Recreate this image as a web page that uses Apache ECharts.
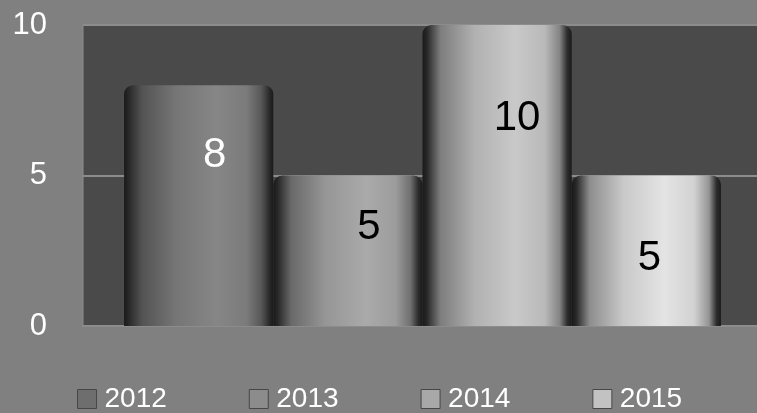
<!DOCTYPE html>
<html>
<head>
<meta charset="utf-8">
<script src="https://cdn.jsdelivr.net/npm/echarts@6/dist/echarts.min.js"></script>
<style>
html,body{margin:0;padding:0;background:#808080;}
#chart{width:757px;height:413px;}
</style>
</head>
<body>
<div id="chart"></div>
<script>
var categories = ['Series'];
var seriesNames = ['2012', '2013', '2014', '2015'];
var seriesValues = [8, 5, 10, 5];
var yTicks = [0, 5, 10];

var peaks = [0x86, 0xaa, 0xc9, 0xe4];
var legendColors = ['#6e6e6e', '#8c8c8c', '#a8a8a8', '#c2c2c2'];
var labelColors = ['#ffffff', '#000000', '#000000', '#000000'];
var labelOffsets = [[16, 44], [21, 26], [20, 67], [3, 57]];

function hex(v){v=Math.max(0,Math.min(255,Math.round(v)));var s=v.toString(16);if(s.length<2)s='0'+s;return '#'+s+s+s;}
function cyl(p){
  return {type:'linear',x:0,y:0,x2:1,y2:0,colorStops:[
    {offset:0,color:hex(25)},
    {offset:0.03,color:hex(40)},
    {offset:0.12,color:hex(p*0.62)},
    {offset:0.35,color:hex(p*0.88)},
    {offset:0.62,color:hex(p)},
    {offset:0.82,color:hex(p*0.92)},
    {offset:0.92,color:hex(p*0.65)},
    {offset:0.97,color:hex(45)},
    {offset:1,color:hex(25)}
  ]};
}

var series = seriesNames.map(function(name,i){
  return {
    name:name,
    type:'bar',
    barGap:'0%',
    barCategoryGap:'12.1%',
    data:[seriesValues[i]],
    itemStyle:{color:cyl(peaks[i]),borderRadius:[9,9,0,0]},
    label:{show:true,position:'insideTop',offset:labelOffsets[i],color:labelColors[i],
      fontSize:42,fontFamily:'Liberation Sans'}
  };
});

var legendData = seriesNames.map(function(name,i){
  return {name:name,itemStyle:{color:legendColors[i],borderColor:'#474747',borderWidth:1}};
});

var chart = echarts.init(document.getElementById('chart'));
chart.setOption({
  backgroundColor:'#808080',
  animation:false,
  grid:{left:83,right:-5,top:25,bottom:87,outerBoundsMode:'none',containLabel:false,
    show:true,backgroundColor:'#4a4a4a',borderColor:'#8c8c8c',borderWidth:1},
  legend:{
    data:legendData,
    left:72,top:380,
    itemWidth:19,itemHeight:19,itemGap:82,
    icon:'rect',
    textStyle:{color:'#ffffff',fontSize:28,fontFamily:'Liberation Sans',padding:[0,0,0,3]}
  },
  xAxis:{type:'category',data:categories,
    axisLine:{show:true,lineStyle:{color:'#8c8c8c',width:2}},
    axisTick:{show:false},axisLabel:{show:false}},
  yAxis:{type:'value',min:yTicks[0],max:yTicks[yTicks.length-1],interval:yTicks[1]-yTicks[0],
    axisLine:{show:false},axisTick:{show:false},
    axisLabel:{color:'#ffffff',fontSize:31,fontFamily:'Liberation Sans',margin:36},
    splitLine:{lineStyle:{color:'#8c8c8c',width:2}}},
  series:series
});
</script>
</body>
</html>
